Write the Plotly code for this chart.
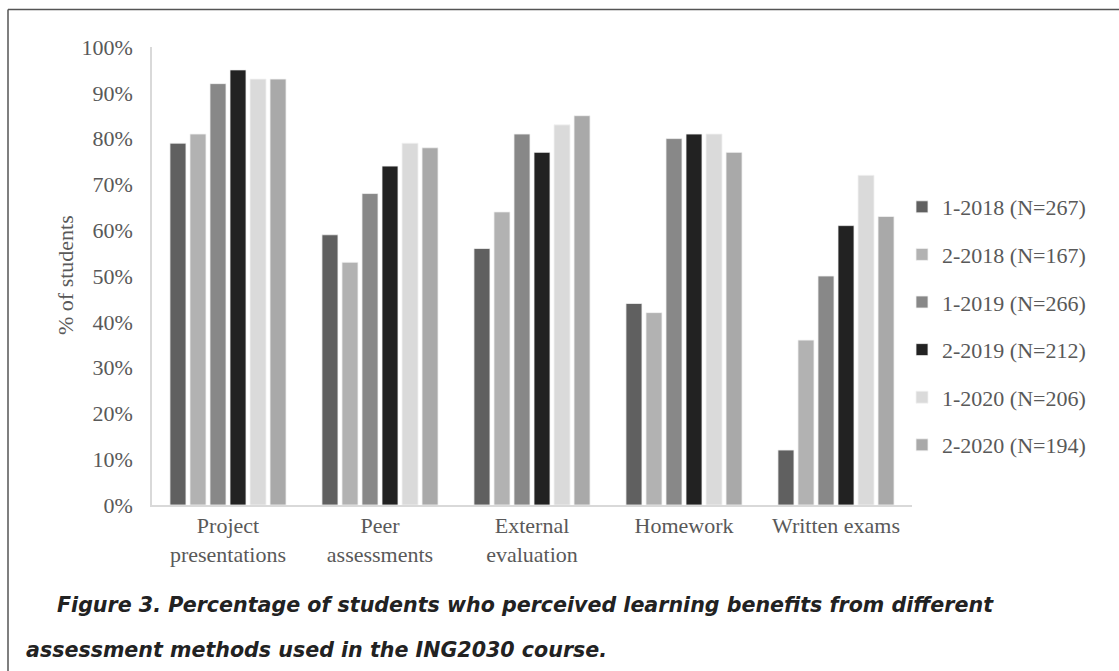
import plotly.graph_objects as go

categories = ["Project<br>presentations", "Peer<br>assessments", "External<br>evaluation", "Homework", "Written exams"]
series_names = ["1-2018 (N=267)", "2-2018 (N=167)", "1-2019 (N=266)", "2-2019 (N=212)", "1-2020 (N=206)", "2-2020 (N=194)"]
values_1_2018 = [79, 59, 56, 44, 12]
values_2_2018 = [81, 53, 64, 42, 36]
values_1_2019 = [92, 68, 81, 80, 50]
values_2_2019 = [95, 74, 77, 81, 61]
values_1_2020 = [93, 79, 83, 81, 72]
values_2_2020 = [93, 78, 85, 77, 63]
series_values = [values_1_2018, values_2_2018, values_1_2019, values_2_2019, values_1_2020, values_2_2020]
colors = ["#606060", "#b2b2b2", "#888888", "#222222", "#dadada", "#a9a9a9"]
y_ticks = [0, 10, 20, 30, 40, 50, 60, 70, 80, 90, 100]
y_tick_labels = [f"{v}%" for v in y_ticks]

W, H = 1119, 671
L, R, T, B = 152, 912, 47, 505
pw, ph = R - L, B - T

def px(x):
    return (x - L) / pw

def py(y):
    return (B - y) / ph

fig = go.Figure()
for i, (name, vals, col) in enumerate(zip(series_names, series_values, colors)):
    fig.add_trace(go.Bar(
        x=categories, y=vals, name=name, legendgroup=f"g{i}",
        marker=dict(color=col, line=dict(color="#f2f2f2", width=0.8)),
    ))

serif = "Liberation Serif, Times New Roman, serif"
txt = "#595959"
fs = 22

fig.update_layout(
    width=W, height=H,
    margin=dict(l=L, r=W - R, t=T, b=H - B),
    paper_bgcolor="white", plot_bgcolor="white",
    barmode="group", bargap=0.21, bargroupgap=0.2,
    font=dict(family=serif, size=fs, color=txt),
    showlegend=True,
    legend=dict(
        x=px(902), xanchor="left", y=py(326), yanchor="middle",
        traceorder="grouped", tracegroupgap=16,
        font=dict(family=serif, size=fs, color=txt),
        bgcolor="rgba(0,0,0,0)",
    ),
    xaxis=dict(
        showline=True, linecolor="#d9d9d9", linewidth=1.5,
        ticks="", showgrid=False, tickfont=dict(family=serif, size=fs, color=txt),
    ),
    yaxis=dict(
        range=[0, 100], tickvals=y_ticks, ticktext=y_tick_labels,
        showline=True, linecolor="#d9d9d9", linewidth=1.5, showgrid=False,
        ticks="outside", ticklen=13, tickcolor="rgba(0,0,0,0)",
        tickfont=dict(family=serif, size=fs, color=txt), zeroline=False,
    ),
)

fig.add_annotation(
    text="% of students", textangle=-90, xref="paper", yref="paper",
    x=px(65), y=py(275), xanchor="center", yanchor="middle", showarrow=False,
    font=dict(family=serif, size=fs, color=txt),
)

cap_font = dict(family="DejaVu Sans, sans-serif", size=20.6, color="#222222")
fig.add_annotation(
    text="<b><i>Figure 3. Percentage of students who perceived learning benefits from different</i></b>",
    xref="paper", yref="paper", x=px(55), y=py(605), xanchor="left", yanchor="middle",
    showarrow=False, font=cap_font,
)
fig.add_annotation(
    text="<b><i>assessment methods used in the ING2030 course.</i></b>",
    xref="paper", yref="paper", x=px(24), y=py(650), xanchor="left", yanchor="middle",
    showarrow=False, font=cap_font,
)

fig.add_shape(type="line", xref="paper", yref="paper", x0=px(8), x1=px(8), y0=py(9.5), y1=py(672),
              line=dict(color="#555555", width=1.5))
fig.add_shape(type="line", xref="paper", yref="paper", x0=px(8), x1=px(1120), y0=py(9.5), y1=py(9.5),
              line=dict(color="#555555", width=1.5))

fig.write_html("out.html")
